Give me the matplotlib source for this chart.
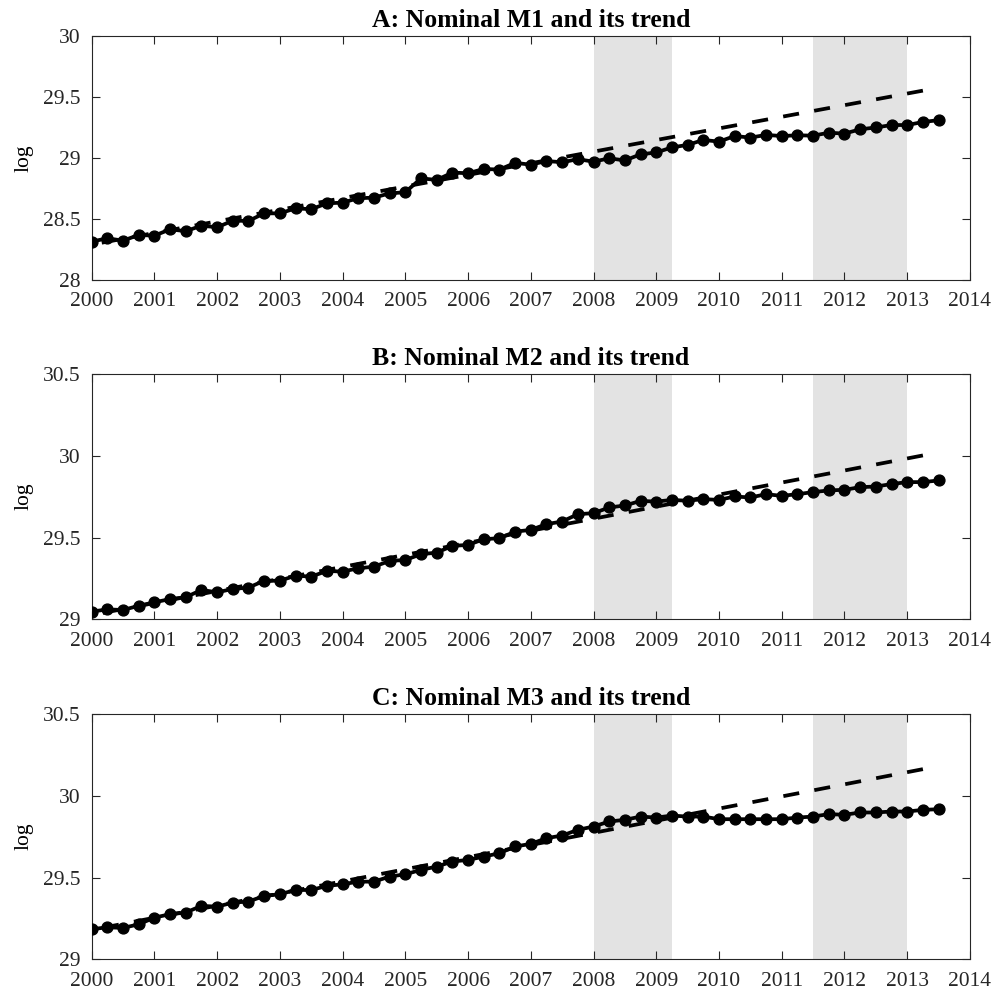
import numpy as np
import matplotlib
matplotlib.use("Agg")
import matplotlib.pyplot as plt

plt.rcParams['font.family'] = ['Liberation Serif', 'DejaVu Serif']

# trimestres 2000Q1 .. 2013Q3
anios = np.arange(2000, 2013.51, 0.25)

m1 = [28.314, 28.342, 28.322, 28.369, 28.363, 28.415, 28.400, 28.445, 28.432, 28.486,
      28.484, 28.546, 28.546, 28.587, 28.580, 28.628, 28.634, 28.670, 28.675, 28.710,
      28.719, 28.833, 28.820, 28.880, 28.875, 28.910, 28.905, 28.960, 28.945, 28.975,
      28.965, 28.990, 28.970, 28.997, 28.980, 29.030, 29.045, 29.087, 29.107, 29.148,
      29.134, 29.180, 29.167, 29.189, 29.180, 29.186, 29.183, 29.207, 29.200, 29.235,
      29.250, 29.270, 29.270, 29.295, 29.310]

m2 = [29.047, 29.061, 29.057, 29.083, 29.104, 29.124, 29.135, 29.180, 29.165, 29.186,
      29.194, 29.236, 29.236, 29.267, 29.261, 29.296, 29.292, 29.312, 29.322, 29.357,
      29.363, 29.398, 29.408, 29.449, 29.455, 29.490, 29.496, 29.536, 29.547, 29.582,
      29.598, 29.643, 29.649, 29.684, 29.696, 29.724, 29.720, 29.730, 29.725, 29.735,
      29.730, 29.751, 29.745, 29.765, 29.755, 29.765, 29.778, 29.788, 29.792, 29.808,
      29.812, 29.827, 29.839, 29.839, 29.849]

m3 = [29.184, 29.196, 29.192, 29.214, 29.255, 29.276, 29.286, 29.327, 29.322, 29.347,
      29.353, 29.388, 29.398, 29.424, 29.424, 29.449, 29.459, 29.475, 29.475, 29.506,
      29.520, 29.547, 29.567, 29.598, 29.608, 29.628, 29.649, 29.690, 29.706, 29.741,
      29.757, 29.792, 29.812, 29.843, 29.853, 29.873, 29.867, 29.879, 29.873, 29.873,
      29.857, 29.857, 29.857, 29.857, 29.857, 29.867, 29.873, 29.888, 29.884, 29.898,
      29.898, 29.904, 29.904, 29.914, 29.918]

# tendencias lineales (extremos)
tend_x = [2000, 2013.25]
tend_m1 = [28.29, 29.552]
tend_m2 = [29.026, 30.002]
tend_m3 = [29.18, 30.163]

titulos = ["A: Nominal M1 and its trend", "B: Nominal M2 and its trend",
           "C: Nominal M3 and its trend"]
ylims = [(28, 30), (29, 30.5), (29, 30.5)]
recesiones = [(2008, 2009.25), (2011.5, 2013)]

fig = plt.figure(figsize=(9.93, 9.97), dpi=100)
posiciones = [[0.0923, 0.7192, 0.8845, 0.2447],
              [0.0923, 0.3788, 0.8845, 0.2461],
              [0.0923, 0.0378, 0.8845, 0.2460]]

series = [m1, m2, m3]
tendencias = [tend_m1, tend_m2, tend_m3]

for i in range(3):
    ax = fig.add_axes(posiciones[i])
    for a, b in recesiones:
        ax.axvspan(a, b, color='#e3e3e3', lw=0, zorder=0)
    # se dibuja del final al inicio para que el ultimo trazo quede completo
    ax.plot(tend_x[::-1], tendencias[i][::-1], color='black', lw=2.7,
            linestyle=(0, (4.3, 4.1)), zorder=2)
    ax.plot(anios, series[i], color='black', lw=2.7, marker='o', markersize=7.8, zorder=3)
    ax.set_xlim(2000, 2014)
    ax.set_ylim(*ylims[i])
    ax.set_xticks(range(2000, 2015))
    ax.set_yticks(np.arange(ylims[i][0], ylims[i][1] + 0.01, 0.5))
    ax.yaxis.set_major_formatter(matplotlib.ticker.FormatStrFormatter('%g'))
    ax.tick_params(direction='in', top=True, right=True, length=6, width=0.8,
                   labelsize=15.5, colors='#262626')
    ax.tick_params(axis='x', pad=9)
    ax.tick_params(axis='y', pad=8)
    for s in ax.spines.values():
        s.set_color('#262626')
        s.set_linewidth(0.8)
    ax.set_title(titulos[i], fontsize=18.5, fontweight='bold', pad=6.5)
    ax.set_ylabel('log', fontsize=15.5, labelpad=7)

fig.savefig('out.png', dpi=100)
